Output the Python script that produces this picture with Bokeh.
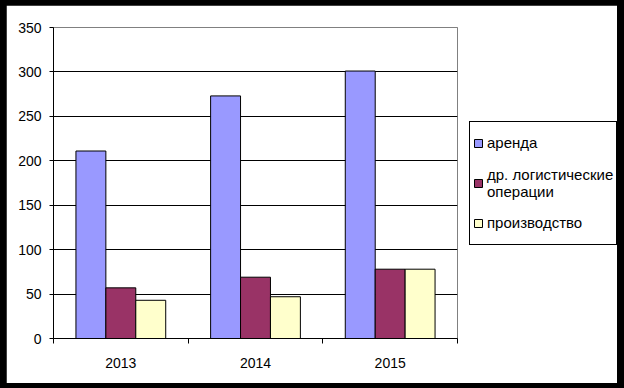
from bokeh.plotting import figure
from bokeh.models import Range1d, FixedTicker, Legend, LegendItem, GlobalInlineStyleSheet
from bokeh.embed import file_html
from bokeh.resources import INLINE

categories = ["2013", "2014", "2015"]
arenda = [211, 273, 301]
logistics = [57, 69, 78]
production = [43, 47, 78]
series_values = [arenda, logistics, production]
series_names = ["аренда", "др. логистические\nоперации", "производство"]
series_colors = ["#9999FF", "#993366", "#FFFFCC"]
y_ticks = [0, 50, 100, 150, 200, 250, 300, 350]

FONT = "Liberation Sans"
bar_w = 1 / 4.5

p = figure(frame_width=404, frame_height=311, output_backend="svg", toolbar_location=None,
           x_range=Range1d(0, len(categories)), y_range=Range1d(0, 350),
           min_border_left=47, min_border_right=160, min_border_top=22,
           min_border_bottom=45)
p.stylesheets = [GlobalInlineStyleSheet(
    css=("html, body { background-color: #000000; overflow: hidden; } "
         "body { padding: 5px 0 0 6px; } "
         "body::after { content: ''; position: fixed; top: 0; right: 0; width: 7px; "
         "height: 100%; background: #000000; z-index: 10000; }"))]
p.background_fill_color = "white"
p.border_fill_color = "white"
p.outline_line_color = "#808080"
p.outline_line_width = 1

renderers = []
for k, (vals, col) in enumerate(zip(series_values, series_colors)):
    xs = [i + 0.5 + (k - 1) * bar_w for i in range(len(categories))]
    r = p.vbar(x=xs, top=vals, bottom=0, width=bar_w, fill_color=col,
               line_color="black", line_width=1)
    renderers.append(r)

# axes
p.xgrid.visible = False
p.ygrid.ticker = FixedTicker(ticks=y_ticks[1:-1])
p.ygrid.grid_line_color = "black"
p.ygrid.grid_line_width = 1

p.yaxis.ticker = FixedTicker(ticks=y_ticks)
p.yaxis.axis_line_color = "black"
p.yaxis.major_tick_out = 4
p.yaxis.major_tick_in = 0
p.yaxis.minor_tick_line_color = None
p.yaxis.major_label_standoff = 8

centers = [i + 0.5 for i in range(len(categories))]
bounds = list(range(len(categories) + 1))
p.xaxis.ticker = FixedTicker(ticks=centers, minor_ticks=bounds)
p.xaxis.major_label_overrides = {c: lab for c, lab in zip(centers, categories)}
p.xaxis.major_tick_out = 0
p.xaxis.major_tick_in = 0
p.xaxis.minor_tick_out = 5
p.xaxis.minor_tick_in = 0
p.xaxis.minor_tick_line_color = "black"
p.xaxis.axis_line_color = "black"
p.xaxis.major_label_standoff = 14

for ax in (p.xaxis, p.yaxis):
    ax.major_label_text_font = FONT
    ax.major_label_text_font_size = "14px"
    ax.major_label_text_color = "black"

items = [LegendItem(label=n, renderers=[r]) for n, r in zip(series_names, renderers)]
legend = Legend(items=items, location="center_left", orientation="vertical",
                border_line_color="black", border_line_width=1, border_line_alpha=1,
                background_fill_color="white", background_fill_alpha=1,
                padding=3, spacing=4, glyph_width=10, glyph_height=10,
                label_standoff=4, label_height=36, margin=12,
                label_text_font=FONT, label_text_font_size="15px",
                label_text_color="black")
p.add_layout(legend, "right")

open("out.html", "w").write(file_html(p, INLINE))
